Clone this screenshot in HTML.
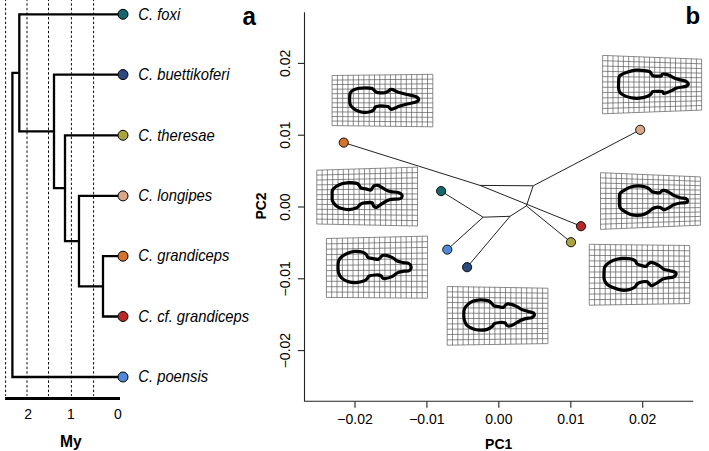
<!DOCTYPE html>
<html><head><meta charset="utf-8"><style>
html,body{margin:0;padding:0;background:#fff;}
body{width:709px;height:451px;overflow:hidden;}
svg{display:block;}
text{font-family:"Liberation Sans",sans-serif;}
.it{font-style:italic;}
.b{font-weight:bold;}
</style></head><body>
<svg width="709" height="451" viewBox="0 0 709 451">

<line x1="5.6" y1="0" x2="5.6" y2="396" stroke="#000" stroke-width="0.95" stroke-dasharray="2.5 2.1" stroke-dashoffset="-3.2"/>
<line x1="27.0" y1="0" x2="27.0" y2="396" stroke="#000" stroke-width="0.95" stroke-dasharray="2.5 2.1" stroke-dashoffset="-3.2"/>
<line x1="48.5" y1="0" x2="48.5" y2="396" stroke="#000" stroke-width="0.95" stroke-dasharray="2.5 2.1" stroke-dashoffset="-3.2"/>
<line x1="71.4" y1="0" x2="71.4" y2="396" stroke="#000" stroke-width="0.95" stroke-dasharray="2.5 2.1" stroke-dashoffset="-3.2"/>
<line x1="93.6" y1="0" x2="93.6" y2="396" stroke="#000" stroke-width="0.95" stroke-dasharray="2.5 2.1" stroke-dashoffset="-3.2"/>
<path d="M12.4 72.853125V377.0H123 M12.4 72.853125H19.3 M123 14.3H19.3V131.40625H54 M123 74.6H54V188.2125H65 M123 135.3H65V241.125H79 M123 195.9H79V286.35H103 M123 256.2H103V316.5H123" fill="none" stroke="#000" stroke-width="2.3" stroke-linejoin="miter" stroke-linecap="square"/>
<circle cx="123" cy="14.3" r="5.0" fill="#17666b" stroke="#000" stroke-width="1"/>
<text class="it" font-size="15" transform="translate(138.3,19.5) scale(0.985,1.08)">C. foxi</text>
<circle cx="123" cy="74.6" r="5.0" fill="#2d4a7e" stroke="#000" stroke-width="1"/>
<text class="it" font-size="15" transform="translate(138.3,79.8) scale(0.985,1.08)">C. buettikoferi</text>
<circle cx="123" cy="135.3" r="5.0" fill="#aaa33e" stroke="#000" stroke-width="1"/>
<text class="it" font-size="15" transform="translate(138.3,140.5) scale(0.985,1.08)">C. theresae</text>
<circle cx="123" cy="195.9" r="5.0" fill="#d9a68a" stroke="#000" stroke-width="1"/>
<text class="it" font-size="15" transform="translate(138.3,201.1) scale(0.985,1.08)">C. longipes</text>
<circle cx="123" cy="256.2" r="5.0" fill="#d5722b" stroke="#000" stroke-width="1"/>
<text class="it" font-size="15" transform="translate(138.3,261.4) scale(0.985,1.08)">C. grandiceps</text>
<circle cx="123" cy="316.5" r="5.0" fill="#b8282a" stroke="#000" stroke-width="1"/>
<text class="it" font-size="15" transform="translate(138.3,321.7) scale(0.985,1.08)">C. cf. grandiceps</text>
<circle cx="123" cy="377.0" r="5.0" fill="#5089d7" stroke="#000" stroke-width="1"/>
<text class="it" font-size="15" transform="translate(138.3,382.2) scale(0.985,1.08)">C. poensis</text>
<line x1="5" y1="398.5" x2="120" y2="398.5" stroke="#000" stroke-width="3"/>
<text x="28.2" y="418.9" font-size="14" text-anchor="middle">2</text>
<text x="71" y="418.9" font-size="14" text-anchor="middle">1</text>
<text x="118" y="418.9" font-size="14" text-anchor="middle">0</text>
<text class="b" x="70.8" y="447.4" font-size="15.6" text-anchor="middle">My</text>
<text class="b" font-size="26" transform="translate(242.4,24.5) scale(0.93,1)">a</text>
<text class="b" x="685.4" y="23.8" font-size="24">b</text>
<path d="M304.5 12.3V401.3H693.2" fill="none" stroke="#222" stroke-width="1.1"/>
<line x1="297.9" y1="63.4" x2="304.5" y2="63.4" stroke="#222" stroke-width="1.1"/>
<text x="0" y="0" font-size="14" text-anchor="middle" transform="translate(290.2,63.4) rotate(-90)">0.02</text>
<line x1="297.9" y1="135.2" x2="304.5" y2="135.2" stroke="#222" stroke-width="1.1"/>
<text x="0" y="0" font-size="14" text-anchor="middle" transform="translate(290.2,135.2) rotate(-90)">0.01</text>
<line x1="297.9" y1="207" x2="304.5" y2="207" stroke="#222" stroke-width="1.1"/>
<text x="0" y="0" font-size="14" text-anchor="middle" transform="translate(290.2,207) rotate(-90)">0.00</text>
<line x1="297.9" y1="278.8" x2="304.5" y2="278.8" stroke="#222" stroke-width="1.1"/>
<text x="0" y="0" font-size="14" text-anchor="middle" transform="translate(290.2,278.8) rotate(-90)">−0.01</text>
<line x1="297.9" y1="350.6" x2="304.5" y2="350.6" stroke="#222" stroke-width="1.1"/>
<text x="0" y="0" font-size="14" text-anchor="middle" transform="translate(290.2,350.6) rotate(-90)">−0.02</text>
<line x1="355.0" y1="401.3" x2="355.0" y2="407.8" stroke="#333" stroke-width="1.2"/>
<text x="355.0" y="424" font-size="14" text-anchor="middle">−0.02</text>
<line x1="426.9" y1="401.3" x2="426.9" y2="407.8" stroke="#333" stroke-width="1.2"/>
<text x="426.9" y="424" font-size="14" text-anchor="middle">−0.01</text>
<line x1="498.8" y1="401.3" x2="498.8" y2="407.8" stroke="#333" stroke-width="1.2"/>
<text x="498.8" y="424" font-size="14" text-anchor="middle">0.00</text>
<line x1="570.8" y1="401.3" x2="570.8" y2="407.8" stroke="#333" stroke-width="1.2"/>
<text x="570.8" y="424" font-size="14" text-anchor="middle">0.01</text>
<line x1="642.7" y1="401.3" x2="642.7" y2="407.8" stroke="#333" stroke-width="1.2"/>
<text x="642.7" y="424" font-size="14" text-anchor="middle">0.02</text>
<text class="b" font-size="14" text-anchor="middle" transform="translate(266,206) rotate(-90)">PC2</text>
<text class="b" x="498.7" y="449" font-size="14" text-anchor="middle">PC1</text>
<path d="M332.1 75.5 332.1 125.6M337.4 75.4 337.4 125.7M342.7 75.4 342.7 125.7M348.0 75.3 348.0 125.8M353.3 75.2 353.3 125.9M358.6 75.2 358.6 125.9M363.9 75.1 363.9 126.0M369.2 75.1 369.2 126.0M374.5 75.0 374.5 126.1M379.8 74.9 379.8 126.2M385.1 74.9 385.1 126.2M390.4 74.8 390.4 126.3M395.7 74.7 395.7 126.4M401.0 74.7 401.0 126.4M406.3 74.6 406.3 126.5M411.6 74.6 411.6 126.5M416.9 74.5 416.9 126.6M422.2 74.4 422.2 126.7M427.5 74.4 427.5 126.7M432.8 74.3 432.8 126.8M332.1 75.5 432.8 74.3M332.1 80.1 432.8 79.1M332.1 84.6 432.8 83.8M332.1 89.2 432.8 88.6M332.1 93.7 432.8 93.4M332.1 98.3 432.8 98.2M332.1 102.8 432.8 102.9M332.1 107.4 432.8 107.7M332.1 111.9 432.8 112.5M332.1 116.5 432.8 117.3M332.1 121.0 432.8 122.0M332.1 125.6 432.8 126.8" fill="none" stroke="#5a5a5a" stroke-width="0.7"/>
<path d="M602.6 55.4 602.6 113.8M607.8 55.6 607.8 113.6M613.0 55.8 613.0 113.4M618.2 56.0 618.2 113.2M623.4 56.2 623.4 113.0M628.7 56.4 628.7 112.8M633.9 56.6 633.9 112.6M639.1 56.8 639.1 112.4M644.3 57.0 644.3 112.2M649.5 57.2 649.5 112.0M654.7 57.4 654.7 111.9M659.9 57.6 659.9 111.7M665.1 57.8 665.1 111.5M670.3 58.0 670.3 111.3M675.5 58.2 675.5 111.1M680.8 58.4 680.8 110.9M686.0 58.6 686.0 110.7M691.2 58.8 691.2 110.5M696.4 59.0 696.4 110.3M701.6 59.2 701.6 110.1M602.6 55.4 701.6 59.2M602.6 60.7 701.6 63.8M602.6 66.0 701.6 68.5M602.6 71.3 701.6 73.1M602.6 76.6 701.6 77.7M602.6 81.9 701.6 82.3M602.6 87.3 701.6 87.0M602.6 92.6 701.6 91.6M602.6 97.9 701.6 96.2M602.6 103.2 701.6 100.8M602.6 108.5 701.6 105.5M602.6 113.8 701.6 110.1" fill="none" stroke="#5a5a5a" stroke-width="0.7"/>
<path d="M316.8 170.2 316.8 224.0M322.1 170.0 322.1 224.1M327.4 169.9 327.4 224.2M332.7 169.7 332.7 224.3M338.0 169.5 338.0 224.4M343.3 169.4 343.3 224.5M348.6 169.2 348.6 224.6M353.9 169.1 353.9 224.7M359.2 168.9 359.2 224.8M364.5 168.7 364.5 224.9M369.8 168.6 369.8 225.1M375.1 168.4 375.1 225.2M380.4 168.2 380.4 225.3M385.7 168.1 385.7 225.4M391.0 167.9 391.0 225.5M396.3 167.8 396.3 225.6M401.6 167.6 401.6 225.7M406.9 167.4 406.9 225.8M412.2 167.3 412.2 225.9M417.5 167.1 417.5 226.0M316.8 170.2 417.5 167.1M316.8 175.1 417.5 172.5M316.8 180.0 417.5 177.8M316.8 184.9 417.5 183.2M316.8 189.8 417.5 188.5M316.8 194.7 417.5 193.9M316.8 199.5 417.5 199.2M316.8 204.4 417.5 204.6M316.8 209.3 417.5 209.9M316.8 214.2 417.5 215.3M316.8 219.1 417.5 220.6M316.8 224.0 417.5 226.0" fill="none" stroke="#5a5a5a" stroke-width="0.7"/>
<path d="M600.5 172.7 600.5 229.4M605.8 172.9 605.8 229.2M611.0 173.1 611.0 229.0M616.3 173.4 616.3 228.7M621.5 173.6 621.5 228.5M626.8 173.8 626.8 228.3M632.0 174.0 632.0 228.1M637.3 174.2 637.3 227.9M642.6 174.5 642.6 227.6M647.8 174.7 647.8 227.4M653.1 174.9 653.1 227.2M658.3 175.1 658.3 227.0M663.6 175.4 663.6 226.7M668.9 175.6 668.9 226.5M674.1 175.8 674.1 226.3M679.4 176.0 679.4 226.1M684.6 176.2 684.6 225.9M689.9 176.5 689.9 225.6M695.1 176.7 695.1 225.4M700.4 176.9 700.4 225.2M600.5 172.7 700.4 176.9M600.5 177.9 700.4 181.3M600.5 183.0 700.4 185.7M600.5 188.2 700.4 190.1M600.5 193.3 700.4 194.5M600.5 198.5 700.4 198.9M600.5 203.6 700.4 203.2M600.5 208.8 700.4 207.6M600.5 213.9 700.4 212.0M600.5 219.1 700.4 216.4M600.5 224.2 700.4 220.8M600.5 229.4 700.4 225.2" fill="none" stroke="#5a5a5a" stroke-width="0.7"/>
<path d="M326.4 238.5 326.4 297.4M331.7 238.4 331.7 297.4M337.0 238.2 337.0 297.5M342.4 238.1 342.4 297.5M347.7 238.0 347.7 297.6M353.0 237.9 353.0 297.6M358.3 237.7 358.3 297.7M363.6 237.6 363.6 297.7M369.0 237.5 369.0 297.7M374.3 237.4 374.3 297.8M379.6 237.2 379.6 297.8M384.9 237.1 384.9 297.9M390.3 237.0 390.3 297.9M395.6 236.9 395.6 297.9M400.9 236.7 400.9 298.0M406.2 236.6 406.2 298.0M411.5 236.5 411.5 298.1M416.9 236.4 416.9 298.1M422.2 236.2 422.2 298.2M427.5 236.1 427.5 298.2M326.4 238.5 427.5 236.1M326.4 243.9 427.5 241.7M326.4 249.2 427.5 247.4M326.4 254.6 427.5 253.0M326.4 259.9 427.5 258.7M326.4 265.3 427.5 264.3M326.4 270.6 427.5 270.0M326.4 276.0 427.5 275.6M326.4 281.3 427.5 281.3M326.4 286.7 427.5 286.9M326.4 292.0 427.5 292.6M326.4 297.4 427.5 298.2" fill="none" stroke="#5a5a5a" stroke-width="0.7"/>
<path d="M589.3 244.3 589.3 305.2M594.6 244.4 594.6 305.1M599.9 244.4 599.9 305.0M605.2 244.5 605.2 304.9M610.4 244.6 610.4 304.9M615.7 244.6 615.7 304.8M621.0 244.7 621.0 304.7M626.3 244.7 626.3 304.6M631.6 244.8 631.6 304.5M636.9 244.9 636.9 304.4M642.1 244.9 642.1 304.4M647.4 245.0 647.4 304.3M652.7 245.1 652.7 304.2M658.0 245.1 658.0 304.1M663.3 245.2 663.3 304.0M668.6 245.2 668.6 303.9M673.8 245.3 673.8 303.9M679.1 245.4 679.1 303.8M684.4 245.4 684.4 303.7M689.7 245.5 689.7 303.6M589.3 244.3 689.7 245.5M589.3 249.8 689.7 250.8M589.3 255.4 689.7 256.1M589.3 260.9 689.7 261.3M589.3 266.4 689.7 266.6M589.3 272.0 689.7 271.9M589.3 277.5 689.7 277.2M589.3 283.1 689.7 282.5M589.3 288.6 689.7 287.8M589.3 294.1 689.7 293.0M589.3 299.7 689.7 298.3M589.3 305.2 689.7 303.6" fill="none" stroke="#5a5a5a" stroke-width="0.7"/>
<path d="M447.2 286.5 447.2 345.2M452.5 286.6 452.5 345.1M457.8 286.7 457.8 345.0M463.1 286.8 463.1 344.9M468.4 286.9 468.4 344.9M473.7 286.9 473.7 344.8M479.0 287.0 479.0 344.7M484.3 287.1 484.3 344.6M489.6 287.2 489.6 344.5M494.9 287.3 494.9 344.4M500.2 287.4 500.2 344.4M505.5 287.5 505.5 344.3M510.8 287.6 510.8 344.2M516.1 287.7 516.1 344.1M521.4 287.8 521.4 344.0M526.7 287.8 526.7 343.9M532.0 287.9 532.0 343.9M537.3 288.0 537.3 343.8M542.6 288.1 542.6 343.7M547.9 288.2 547.9 343.6M447.2 286.5 547.9 288.2M447.2 291.8 547.9 293.2M447.2 297.2 547.9 298.3M447.2 302.5 547.9 303.3M447.2 307.8 547.9 308.3M447.2 313.2 547.9 313.4M447.2 318.5 547.9 318.4M447.2 323.9 547.9 323.5M447.2 329.2 547.9 328.5M447.2 334.5 547.9 333.5M447.2 339.9 547.9 338.6M447.2 345.2 547.9 343.6" fill="none" stroke="#5a5a5a" stroke-width="0.7"/>
<path d="M349.6 99.2C349.6 97.3 349.6 94.7 350.2 93.2C350.8 91.7 351.7 91.0 353.2 90.2C354.7 89.4 357.0 88.6 359.2 88.2C361.4 87.8 364.3 87.8 366.4 87.8C368.5 87.8 370.5 88.0 371.8 88.4C373.1 88.8 373.5 89.6 374.2 90.2C374.9 90.8 374.9 91.5 376.0 92.0C377.1 92.5 379.3 92.8 380.8 92.9C382.3 93.0 383.8 92.8 385.0 92.6C386.2 92.3 387.1 91.9 388.0 91.4C388.9 90.9 389.6 89.9 390.4 89.6C391.2 89.3 391.8 89.3 392.8 89.6C393.8 89.9 394.7 90.8 396.3 91.4C397.9 92.0 400.1 92.6 402.3 93.2C404.5 93.8 407.3 94.5 409.5 95.0C411.7 95.5 414.0 95.9 415.5 96.5C417.0 97.1 418.1 97.8 418.5 98.6C418.9 99.3 418.6 100.3 417.9 101.0C417.2 101.7 416.1 102.0 414.3 102.5C412.5 103.0 409.5 103.4 407.1 104.0C404.7 104.6 402.0 105.4 399.9 106.1C397.8 106.8 395.9 107.7 394.5 108.2C393.1 108.8 392.4 109.4 391.6 109.4C390.8 109.4 390.4 108.7 389.8 108.2C389.2 107.7 388.9 106.8 388.0 106.4C387.1 106.1 386.0 106.1 384.4 106.1C382.8 106.0 379.9 105.9 378.4 106.1C376.9 106.2 376.2 106.3 375.4 107.0C374.6 107.7 374.5 109.2 373.6 110.0C372.7 110.8 371.6 111.4 370.0 111.8C368.4 112.2 366.0 112.6 364.0 112.4C362.0 112.2 359.8 111.6 358.0 110.9C356.2 110.2 354.5 109.2 353.2 108.2C351.9 107.2 350.8 106.1 350.2 104.6C349.6 103.1 349.6 101.1 349.6 99.2Z" fill="none" stroke="#000" stroke-width="3.2" stroke-linejoin="round"/>
<path d="M618.6 83.2C618.7 81.4 618.6 78.6 619.0 77.2C619.4 75.8 619.8 75.6 621.0 74.8C622.2 74.0 623.9 73.2 626.4 72.4C628.9 71.6 633.0 70.5 636.0 70.2C639.0 69.9 642.1 70.3 644.4 70.6C646.7 70.9 648.6 71.2 649.8 71.8C651.0 72.4 651.0 73.5 651.6 74.2C652.2 74.9 652.4 75.7 653.4 76.0C654.4 76.3 656.3 76.2 657.6 76.2C658.9 76.2 660.4 76.3 661.2 76.0C662.0 75.7 661.8 74.5 662.4 74.2C663.0 73.9 663.6 74.0 664.8 74.2C666.0 74.4 668.0 74.8 669.5 75.4C671.0 76.0 672.1 77.1 673.7 77.8C675.3 78.5 677.2 79.1 679.1 79.6C681.0 80.1 683.6 80.4 685.1 81.0C686.6 81.6 687.8 82.4 688.1 83.2C688.4 84.0 687.8 85.3 686.9 85.9C686.0 86.5 684.4 86.7 682.7 87.0C681.0 87.3 678.5 87.4 676.7 88.0C674.9 88.6 673.5 89.7 671.9 90.4C670.3 91.2 668.5 92.0 667.1 92.5C665.7 93.0 664.4 93.6 663.6 93.4C662.8 93.2 663.4 91.9 662.4 91.6C661.4 91.2 659.2 91.3 657.6 91.3C656.0 91.3 653.9 91.1 652.8 91.6C651.7 92.0 652.0 93.2 651.0 94.0C650.0 94.8 648.7 95.9 646.8 96.6C644.9 97.3 642.2 98.0 639.6 98.2C637.0 98.4 633.8 98.3 631.2 97.8C628.6 97.3 625.9 96.3 624.0 95.4C622.1 94.5 620.7 93.4 619.8 92.2C618.9 91.0 618.8 89.5 618.6 88.0C618.4 86.5 618.5 85.0 618.6 83.2Z" fill="none" stroke="#000" stroke-width="3.2" stroke-linejoin="round"/>
<path d="M332.2 195.2C332.2 193.5 331.8 191.8 332.4 190.4C333.0 189.0 334.2 187.9 335.8 186.8C337.4 185.7 339.6 184.5 341.8 183.8C344.0 183.1 346.5 182.7 349.0 182.6C351.5 182.5 355.1 182.9 356.8 183.4C358.5 183.9 358.5 184.8 359.2 185.6C359.9 186.4 359.9 187.4 361.0 188.0C362.1 188.6 364.2 188.6 365.8 188.9C367.4 189.2 369.5 190.2 370.6 190.1C371.7 189.9 371.8 188.7 372.4 188.0C373.0 187.3 373.3 186.2 374.2 185.8C375.1 185.4 376.5 185.1 377.8 185.4C379.1 185.7 380.5 186.6 381.9 187.4C383.3 188.2 384.6 189.4 386.1 190.1C387.6 190.8 388.9 191.2 390.9 191.6C392.9 192.0 396.3 192.0 398.1 192.5C399.9 193.0 401.1 193.8 401.7 194.6C402.3 195.4 402.2 196.9 401.7 197.6C401.2 198.3 400.5 198.7 398.7 199.0C396.9 199.3 393.0 199.0 390.9 199.4C388.8 199.8 387.7 200.4 386.1 201.2C384.5 202.0 382.9 203.2 381.3 204.2C379.7 205.2 377.9 207.1 376.6 207.4C375.3 207.7 374.3 206.7 373.6 206.0C372.9 205.3 373.1 203.6 372.4 203.0C371.7 202.4 371.1 202.3 369.4 202.4C367.7 202.5 363.9 202.8 362.2 203.3C360.5 203.8 360.1 204.7 359.2 205.4C358.3 206.2 358.5 207.1 356.8 207.8C355.1 208.5 351.5 209.5 349.0 209.6C346.5 209.7 344.0 209.3 341.8 208.6C339.6 207.9 337.4 206.7 335.8 205.4C334.2 204.1 333.0 202.3 332.4 200.6C331.8 198.9 332.2 196.9 332.2 195.2Z" fill="none" stroke="#000" stroke-width="3.2" stroke-linejoin="round"/>
<path d="M619.4 199.8C619.4 197.6 619.1 195.3 619.8 193.8C620.5 192.3 621.7 191.9 623.4 190.8C625.1 189.7 627.5 188.0 630.0 187.2C632.5 186.4 635.8 185.8 638.4 185.8C641.0 185.8 643.8 186.5 645.6 187.0C647.4 187.5 648.1 188.2 649.2 189.0C650.3 189.8 651.0 191.1 652.2 191.7C653.4 192.3 655.1 192.4 656.4 192.6C657.7 192.8 659.0 192.9 660.0 192.6C661.0 192.3 661.5 190.9 662.4 190.6C663.3 190.3 664.2 190.3 665.4 190.6C666.6 190.9 668.0 191.8 669.5 192.6C671.0 193.4 672.5 194.8 674.3 195.6C676.1 196.4 678.4 197.2 680.3 197.7C682.2 198.2 684.5 198.1 685.7 198.6C686.9 199.1 687.4 199.8 687.5 200.4C687.6 201.1 687.5 202.1 686.3 202.5C685.1 202.9 682.3 202.7 680.3 203.0C678.3 203.3 676.1 203.9 674.3 204.6C672.5 205.3 671.1 206.5 669.5 207.3C667.9 208.2 666.0 209.4 664.8 209.7C663.6 209.9 663.1 209.2 662.4 208.8C661.7 208.5 661.6 207.8 660.6 207.6C659.6 207.3 657.8 207.1 656.4 207.3C655.0 207.5 653.4 208.1 652.2 208.8C651.0 209.5 650.5 210.5 649.2 211.4C647.9 212.3 646.4 213.5 644.4 214.2C642.4 214.9 639.6 215.4 637.2 215.4C634.8 215.4 632.3 215.0 630.0 214.2C627.7 213.4 625.1 211.8 623.4 210.6C621.7 209.4 620.5 208.8 619.8 207.0C619.1 205.2 619.4 202.0 619.4 199.8Z" fill="none" stroke="#000" stroke-width="3.2" stroke-linejoin="round"/>
<path d="M338.0 267.0C338.0 265.0 338.0 262.7 338.6 261.0C339.2 259.3 340.1 258.1 341.6 256.8C343.1 255.5 345.4 254.1 347.6 253.2C349.8 252.3 352.4 251.6 354.8 251.4C357.2 251.2 360.1 251.5 362.0 252.0C363.9 252.5 365.2 253.5 366.2 254.4C367.2 255.3 366.9 256.7 368.0 257.4C369.1 258.1 371.1 258.3 372.8 258.6C374.5 258.9 376.9 259.6 378.2 259.4C379.5 259.2 379.9 258.0 380.6 257.4C381.3 256.8 381.5 255.9 382.4 255.6C383.3 255.3 384.4 255.1 386.0 255.4C387.6 255.7 390.0 256.5 391.9 257.4C393.8 258.3 395.5 260.1 397.3 261.0C399.1 261.9 400.8 262.1 402.7 262.5C404.6 262.9 407.3 262.6 408.7 263.4C410.1 264.1 411.0 265.8 411.1 267.0C411.2 268.2 410.5 269.9 409.3 270.6C408.1 271.3 405.8 270.9 403.9 271.2C402.0 271.5 399.9 271.7 397.9 272.6C395.9 273.5 394.1 275.6 391.9 276.6C389.7 277.6 386.4 278.4 384.8 278.6C383.2 278.8 383.1 278.3 382.4 277.8C381.7 277.3 381.8 275.9 380.6 275.4C379.4 274.9 377.1 274.9 375.2 275.0C373.3 275.1 370.5 275.4 369.2 276.0C367.9 276.6 368.2 277.6 367.4 278.4C366.6 279.2 366.3 280.1 364.4 280.8C362.5 281.5 358.8 282.5 356.0 282.6C353.2 282.7 350.0 282.2 347.6 281.4C345.2 280.6 343.1 279.2 341.6 277.8C340.1 276.4 339.2 274.8 338.6 273.0C338.0 271.2 338.0 269.0 338.0 267.0Z" fill="none" stroke="#000" stroke-width="3.2" stroke-linejoin="round"/>
<path d="M604.0 272.8C604.1 270.8 604.0 268.9 604.6 267.4C605.2 265.9 606.1 265.0 607.6 263.8C609.1 262.6 611.2 261.1 613.6 260.2C616.0 259.3 619.2 258.6 622.0 258.4C624.8 258.2 628.2 258.4 630.4 258.8C632.6 259.2 634.1 260.0 635.2 260.8C636.3 261.6 635.9 263.0 637.0 263.8C638.1 264.6 640.3 265.2 641.8 265.6C643.3 266.0 645.0 266.6 646.0 266.4C647.0 266.2 647.0 265.1 647.8 264.4C648.6 263.7 649.7 262.6 650.8 262.4C651.9 262.2 652.9 262.7 654.3 263.2C655.7 263.7 657.5 264.6 659.1 265.6C660.7 266.6 662.1 268.4 663.9 269.2C665.7 270.0 668.0 270.2 669.9 270.7C671.8 271.2 674.3 271.5 675.3 272.2C676.3 272.9 676.2 273.8 675.9 274.6C675.6 275.4 674.9 276.4 673.5 277.0C672.1 277.6 669.3 277.5 667.5 277.9C665.7 278.2 664.3 278.4 662.7 279.1C661.1 279.9 659.7 281.3 657.9 282.4C656.1 283.5 653.4 285.3 652.0 285.6C650.6 285.9 650.4 285.0 649.6 284.4C648.8 283.8 648.4 282.2 647.2 281.8C646.0 281.4 644.0 281.5 642.4 281.8C640.8 282.1 638.9 282.7 637.6 283.6C636.3 284.5 636.0 286.2 634.6 287.2C633.2 288.2 631.3 289.1 629.2 289.6C627.1 290.1 624.6 290.5 622.0 290.2C619.4 289.9 616.1 288.8 613.6 287.8C611.1 286.8 608.6 285.6 607.0 284.2C605.4 282.8 604.7 281.3 604.2 279.4C603.7 277.5 603.9 274.8 604.0 272.8Z" fill="none" stroke="#000" stroke-width="3.2" stroke-linejoin="round"/>
<path d="M463.8 314.4C463.8 312.6 463.8 310.6 464.4 309.0C465.0 307.4 466.0 306.1 467.4 304.8C468.8 303.5 470.7 302.0 472.8 301.2C474.9 300.4 477.5 299.9 480.0 299.8C482.5 299.7 485.9 300.1 487.8 300.6C489.7 301.1 490.4 302.1 491.4 303.0C492.4 303.9 492.6 305.1 493.8 305.7C495.0 306.3 497.0 306.3 498.6 306.6C500.2 306.9 502.3 307.6 503.4 307.4C504.5 307.2 504.5 306.0 505.2 305.4C505.9 304.8 506.4 303.9 507.6 303.8C508.8 303.7 510.7 304.1 512.3 304.6C513.9 305.1 515.5 305.8 517.1 306.6C518.7 307.4 520.1 308.8 521.9 309.6C523.7 310.4 526.0 310.8 527.9 311.4C529.8 311.9 532.2 312.2 533.3 312.9C534.3 313.6 534.5 314.8 534.2 315.6C533.9 316.4 533.0 317.2 531.5 317.7C530.0 318.2 527.5 318.1 525.5 318.6C523.5 319.2 521.5 320.0 519.5 321.0C517.5 322.0 515.3 323.8 513.5 324.6C511.7 325.5 510.0 326.1 508.8 326.1C507.6 326.2 507.0 325.4 506.4 324.9C505.8 324.3 506.0 323.2 504.9 322.8C503.8 322.4 501.6 322.4 499.8 322.5C498.1 322.6 495.7 323.0 494.4 323.7C493.1 324.4 493.2 325.7 492.0 326.6C490.8 327.6 489.2 328.8 487.2 329.4C485.2 330.0 482.4 330.3 480.0 330.2C477.6 330.1 475.0 329.6 472.8 328.8C470.6 328.0 468.2 326.7 466.8 325.2C465.4 323.7 464.7 321.6 464.2 319.8C463.7 318.0 463.8 316.2 463.8 314.4Z" fill="none" stroke="#000" stroke-width="3.2" stroke-linejoin="round"/>
<path d="M343.75 142.6L480 185.4M480 185.4L581 226.2M480 185.4L533.2 185.8M533.2 185.8L640.2 129.8M533.2 185.8L526.4 205.9M526.4 205.9L571 242.2M526.4 205.9L510 216.3M510 216.3L467.1 267.2M510 216.3L483.1 217.2M483.1 217.2L441.1 191.1M483.1 217.2L447.3 249.6" fill="none" stroke="#222" stroke-width="1"/>
<circle cx="343.75" cy="142.6" r="4.6" fill="#d5722b" stroke="#000" stroke-width="0.9"/>
<circle cx="581" cy="226.2" r="4.6" fill="#b8282a" stroke="#000" stroke-width="0.9"/>
<circle cx="640.2" cy="129.8" r="4.6" fill="#d9a68a" stroke="#000" stroke-width="0.9"/>
<circle cx="571" cy="242.2" r="4.6" fill="#aaa33e" stroke="#000" stroke-width="0.9"/>
<circle cx="467.1" cy="267.2" r="4.6" fill="#2d4a7e" stroke="#000" stroke-width="0.9"/>
<circle cx="441.1" cy="191.1" r="4.6" fill="#17666b" stroke="#000" stroke-width="0.9"/>
<circle cx="447.3" cy="249.6" r="4.6" fill="#5089d7" stroke="#000" stroke-width="0.9"/>
</svg></body></html>
